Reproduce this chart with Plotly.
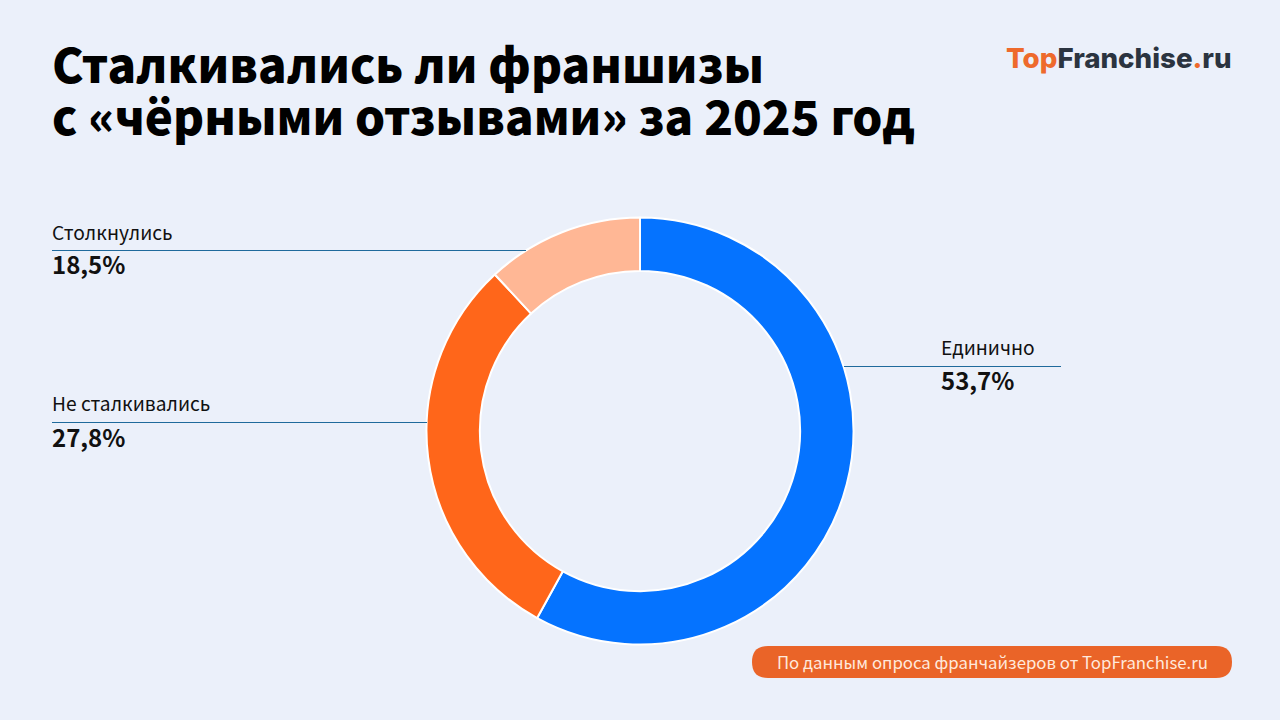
# donut chart: franchises and "black reviews" in 2025

import plotly.graph_objects as go

W = 1280
H = 720

BG = "#ebf0fa"
FONT = "Noto Sans CJK SC"

title_lines = ["Сталкивались ли франшизы", "с «чёрными отзывами» за 2025 год"]
source_text = "По данным опроса франчайзеров от TopFranchise.ru"

categories = ["Единично", "Не сталкивались", "Столкнулись"]
# slice sizes as drawn, they do not follow the printed labels
slice_values = [58.0, 30.1, 11.9]
value_labels = ["53,7%", "27,8%", "18,5%"]
slice_colors = ["#0573ff", "#ff661a", "#ffb795"]


def px(x):
    return x / W


def py(y):
    return 1 - y / H


def add_text(fig, x, y, text, size, weight=400, color="#111111", anchor="left", family=FONT):
    fig.add_annotation(
        x=px(x), y=py(y), xref="paper", yref="paper",
        text=text, showarrow=False, xanchor=anchor, yanchor="middle",
        align="left", borderpad=0,
        font=dict(family=family, size=size, color=color, weight=weight),
    )


def add_leader(fig, x0, x1, y):
    fig.add_shape(
        type="line", xref="paper", yref="paper",
        x0=px(x0), x1=px(x1), y0=py(y + 0.5), y1=py(y + 0.5),
        line=dict(color="#1f6a9c", width=1),
    )


fig = go.Figure()

fig.add_trace(go.Pie(
    labels=categories,
    values=slice_values,
    hole=0.75,
    sort=False,
    direction="clockwise",
    rotation=0,
    textinfo="none",
    hoverinfo="label",
    showlegend=False,
    marker=dict(colors=slice_colors, line=dict(color="#ffffff", width=2)),
    domain=dict(x=[px(640 - 213.5), px(640 + 213.5)], y=[py(431 + 213.5), py(431 - 213.5)]),
))

# title
add_text(fig, 51, 62, title_lines[0], 47.4, weight=900, color="#000000")
add_text(fig, 51, 115, title_lines[1], 47.4, weight=900, color="#000000")

# logo
logo = ('<span style="color:#ee6a2c">Top</span>'
        '<span style="color:#2b3440">Franchise</span>'
        '<span style="color:#ee6a2c">.</span>'
        '<span style="color:#2b3440">ru</span>')
add_text(fig, 1005, 58, logo, 27.7, weight=800, family="Inter")

# labels with leader lines
add_leader(fig, 844, 1061, 366)
add_text(fig, 940, 347, categories[0], 19.2)
add_text(fig, 940, 379.5, value_labels[0], 24, weight=700)

add_leader(fig, 52, 427, 422)
add_text(fig, 51, 403, categories[1], 19.2)
add_text(fig, 51, 436.5, value_labels[1], 24, weight=700)

add_leader(fig, 52, 526, 250)
add_text(fig, 51, 232, categories[2], 19.2)
add_text(fig, 51, 263.5, value_labels[2], 24, weight=700)

# source pill
x0, x1, y0, y1, r = px(752), px(1232), py(678), py(646), 16
rx = r / W
ry = r / H
fig.add_shape(
    type="path", xref="paper", yref="paper",
    path=(f"M {x0 + rx} {y0} L {x1 - rx} {y0} Q {x1} {y0} {x1} {y0 + ry} "
          f"Q {x1} {y1} {x1 - rx} {y1} L {x0 + rx} {y1} Q {x0} {y1} {x0} {y0 + ry} "
          f"Q {x0} {y0} {x0 + rx} {y0} Z"),
    fillcolor="#ea6428", line=dict(width=0),
)
add_text(fig, 775.5, 662, source_text, 16.8, color="#ffe9dc")

fig.update_layout(
    width=W, height=H,
    margin=dict(l=0, r=0, t=0, b=0),
    paper_bgcolor=BG,
    plot_bgcolor=BG,
)

fig.write_html("out.html", config=dict(displayModeBar=False),
               post_script="document.body.style.margin='0';")
